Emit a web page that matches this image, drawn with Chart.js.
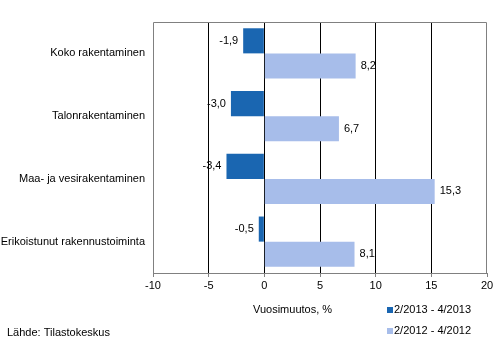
<!DOCTYPE html>
<html><head><meta charset="utf-8">
<script src="https://cdn.jsdelivr.net/npm/chart.js@4/dist/chart.umd.min.js"></script>
<style>html,body{margin:0;padding:0;background:#fff}#w{width:502px;height:356px}</style>
</head><body><div id="w"><canvas id="c" width="502" height="356"></canvas></div>
<script>
const categories = ["Koko rakentaminen","Talonrakentaminen","Maa- ja vesirakentaminen","Erikoistunut rakennustoiminta"];
const series2013 = [-1.9,-3.0,-3.4,-0.5];
const series2012 = [8.2,6.7,15.3,8.1];
const seriesNames = ["2/2013 - 4/2013","2/2012 - 4/2012"];
const xTicks = [-10,-5,0,5,10,15,20];
const axisTitle = "Vuosimuutos, %";
const sourceText = "Lähde: Tilastokeskus";
const FONT = "'Liberation Sans', Arial, sans-serif";
const colors = ["#1a66b1","#a7bdea"];

const overlay = {
  id:'overlay',
  afterDatasetsDraw(chart){
    const ctx = chart.ctx, a = chart.chartArea;
    ctx.save();
    ctx.strokeStyle = "#808080"; ctx.lineWidth = 1;
    ctx.beginPath();
    ctx.moveTo(a.left+0.5, a.bottom); ctx.lineTo(a.left+0.5, a.top+0.5);
    ctx.lineTo(a.right-0.5, a.top+0.5); ctx.lineTo(a.right-0.5, a.bottom);
    ctx.stroke();
    ctx.font = "11px " + FONT; ctx.fillStyle = "#000"; ctx.textBaseline = "middle";
    chart.data.datasets.forEach((ds, di) => {
      const meta = chart.getDatasetMeta(di);
      meta.data.forEach((bar, i) => {
        const v = ds.data[i];
        const t = v.toFixed(1).replace('.', ',');
        if (v < 0) { ctx.textAlign = "right"; ctx.fillText(t, bar.x - 5, bar.y); }
        else { ctx.textAlign = "left"; ctx.fillText(t, bar.x + 5, bar.y); }
      });
    });
    // axis title
    ctx.textAlign = "left";
    ctx.fillText(axisTitle, 253, 310);
    ctx.fillText(sourceText, 7, 333);
    // legend
    seriesNames.forEach((n, i) => {
      const y = 310 + i * 21;
      ctx.fillStyle = colors[i];
      ctx.fillRect(387, y - 3, 6, 6);
      ctx.fillStyle = "#000";
      ctx.fillText(n, 394, y);
    });
    ctx.restore();
  }
};

new Chart(document.getElementById('c'), {
  type: 'bar',
  data: {
    labels: categories,
    datasets: [
      {label: seriesNames[0], data: series2013, backgroundColor: colors[0], categoryPercentage: 0.8, barPercentage: 1.0},
      {label: seriesNames[1], data: series2012, backgroundColor: colors[1], categoryPercentage: 0.8, barPercentage: 1.0}
    ]
  },
  options: {
    indexAxis: 'y', responsive: false, animation: false, devicePixelRatio: 1,
    layout: {padding: {left: 0, right: 15, top: 22, bottom: 0}},
    plugins: {legend: {display: false}, tooltip: {enabled: false}},
    scales: {
      x: {
        min: -10, max: 20,
        afterBuildTicks(s){ s.ticks = xTicks.map(v => ({value: v})); },
        afterFit(s){ s.height = 83; },
        ticks: {color: "#000", font: {family: FONT, size: 11}, padding: 2, maxRotation: 0,
          callback: v => String(v)},
        grid: {
          color: c => (c.tick && (c.tick.value === -10 || c.tick.value === 20)) ? "rgba(0,0,0,0)" : "#000",
          drawTicks: true, tickLength: 4, tickColor: "#808080"
        },
        border: {display: true, color: "#808080"}
      },
      y: {
        afterFit(s){ s.width = 153; },
        ticks: {color: "#000", font: {family: FONT, size: 11}, padding: 8},
        grid: {display: false, drawTicks: false},
        border: {display: false}
      }
    }
  },
  plugins: [overlay]
});
</script></body></html>
